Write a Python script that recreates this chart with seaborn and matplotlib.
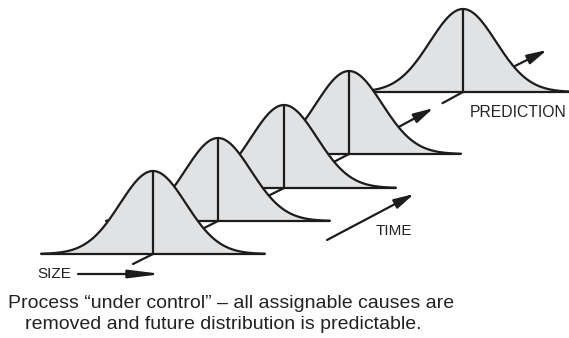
import numpy as np
import pandas as pd
import matplotlib
matplotlib.use('Agg')
import matplotlib.pyplot as plt
import seaborn as sns

# five distributions along the time axis (front -> back), last one is the prediction
center_x = [153, 218, 284, 349, 463]
base_y = [254, 221, 188, 154, 92]
peak_height = 83
spread = 33
half_width = 112

caption = ["Process \u201cunder control\u201d \u2013 all assignable causes are",
           "removed and future distribution is predictable."]

sns.set_theme(style='white')
plt.rcParams['font.family'] = ['Liberation Sans', 'DejaVu Sans']

line_col = '#1c1c1c'
fill_col = '#e1e2e4'
lw = 1.6

fig = plt.figure(figsize=(5.69, 3.38), dpi=100)
ax = fig.add_axes([0, 0, 1, 1])
ax.set_xlim(0, 569)
ax.set_ylim(338, 0)
ax.axis('off')

u = np.linspace(-half_width, half_width, 400)
shape = peak_height * np.exp(-u**2 / (2 * spread**2))

n = len(center_x)
for k in range(n):
    z = 10 * (n - k)
    cx, by = center_x[k], base_y[k]
    df = pd.DataFrame({'x': cx + u, 'y': by - shape})
    ax.fill_between(df['x'], by, df['y'], facecolor=fill_col, edgecolor='none', zorder=z)
    sns.lineplot(data=df, x='x', y='y', ax=ax, color=line_col, lw=lw, zorder=z + 1)
    ax.plot([cx - half_width, cx + half_width], [by, by], color=line_col, lw=lw,
            solid_capstyle='butt', zorder=z + 1)
    ax.plot([cx, cx], [by, by - peak_height], color=line_col, lw=lw, zorder=z + 1)

# time axis pieces, each sitting behind the next distribution in front
for k in range(1, n - 1):
    ax.plot([center_x[k], center_x[k - 1]], [base_y[k], base_y[k - 1]],
            color=line_col, lw=lw, zorder=10 * (n - k) + 5)
ax.plot([center_x[0], center_x[0] - 20], [base_y[0], base_y[0] + 10],
        color=line_col, lw=lw, zorder=60)

# segment up to the prediction, arrowhead midway then a gap
x4, y4, x5, y5 = center_x[3], base_y[3], center_x[4], base_y[4]
arrow_kw = dict(arrowstyle='-|>,head_length=1.0,head_width=0.25', color=line_col,
                lw=lw, shrinkA=0, shrinkB=0, mutation_scale=12)
f1, f2 = 0.74, 0.82
ax.annotate('', xy=(x4 + f1 * (x5 - x4), y4 + f1 * (y5 - y4)), xytext=(x4, y4),
            arrowprops=arrow_kw, zorder=15)
ax.plot([x4 + f2 * (x5 - x4), x5], [y4 + f2 * (y5 - y4), y5], color=line_col, lw=lw, zorder=15)

# beyond the prediction
ax.annotate('', xy=(547, 50), xytext=(x5, y5), arrowprops=arrow_kw, zorder=5)

# TIME and SIZE arrows
ax.annotate('', xy=(414, 194), xytext=(327, 240), arrowprops=arrow_kw, zorder=60)
ax.annotate('', xy=(162, 274), xytext=(78, 274),
            arrowprops=dict(arrowstyle='-|>,head_length=1.6,head_width=0.2', color=line_col,
                            lw=lw, shrinkA=0, shrinkB=0, mutation_scale=12), zorder=60)

txt_col = '#222222'
ax.text(37, 278, 'SIZE', fontsize=11, color=txt_col, va='baseline', ha='left')
ax.text(376, 235, 'TIME', fontsize=11, color=txt_col, va='baseline', ha='left')
ax.text(470, 117, 'PREDICTION', fontsize=11.3, color=txt_col, va='baseline', ha='left')
ax.text(8, 308, caption[0], fontsize=14, color=txt_col, va='baseline', ha='left')
ax.text(25, 329, caption[1], fontsize=14, color=txt_col, va='baseline', ha='left')

fig.savefig('out.png', dpi=100)
